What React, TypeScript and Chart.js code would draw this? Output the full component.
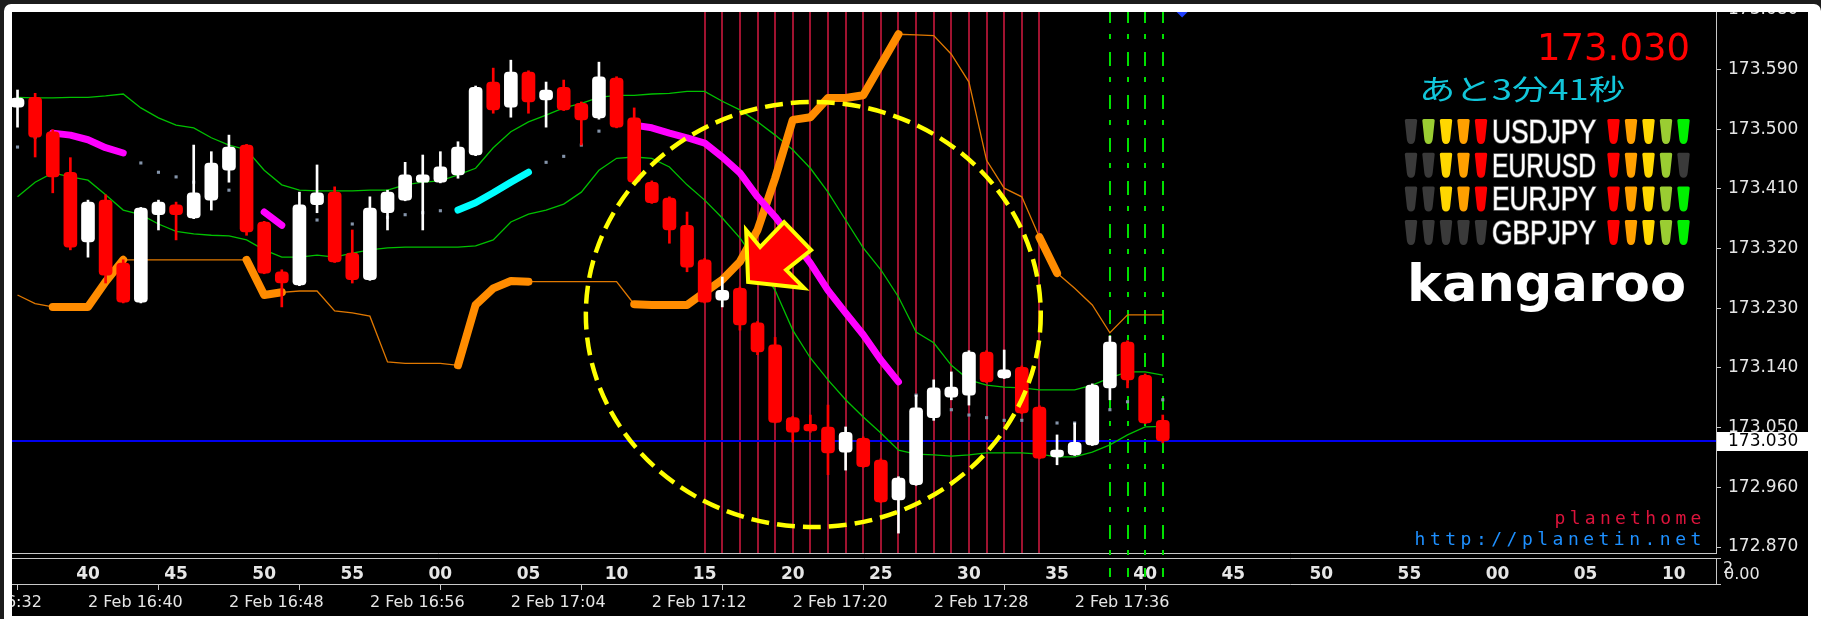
import React, { useEffect, useRef } from "react";
import { Chart, registerables } from "chart.js";

Chart.register(...registerables);

// ---------- data ----------
const TIMES = [
  "16:36","16:37","16:38","16:39","16:40","16:41","16:42","16:43","16:44","16:45",
  "16:46","16:47","16:48","16:49","16:50","16:51","16:52","16:53","16:54","16:55",
  "16:56","16:57","16:58","16:59","17:00","17:01","17:02","17:03","17:04","17:05",
  "17:06","17:07","17:08","17:09","17:10","17:11","17:12","17:13","17:14","17:15",
  "17:16","17:17","17:18","17:19","17:20","17:21","17:22","17:23","17:24","17:25",
  "17:26","17:27","17:28","17:29","17:30","17:31","17:32","17:33","17:34","17:35",
  "17:36","17:37","17:38","17:39","17:40","17:41",
];

const OPEN = [
  173.533,173.548,173.496,173.435,173.330,173.393,173.298,173.239,173.371,173.386,
  173.366,173.393,173.438,173.476,173.360,173.285,173.265,173.386,173.405,173.313,
  173.273,173.374,173.393,173.420,173.420,173.431,173.461,173.571,173.533,173.586,
  173.544,173.563,173.539,173.517,173.577,173.517,173.420,173.396,173.355,173.303,
  173.242,173.260,173.208,173.175,173.065,173.055,173.051,173.013,173.034,173.001,
  172.941,172.964,173.065,173.096,173.099,173.164,173.125,173.141,173.081,173.006,
  173.009,173.024,173.110,173.179,173.129,173.061,
];
const HIGH = [
  173.559,173.554,173.499,173.457,173.393,173.401,173.303,173.382,173.393,173.390,
  173.476,173.466,173.491,173.477,173.361,173.288,173.405,173.446,173.413,173.348,
  173.398,173.408,173.450,173.461,173.466,173.481,173.565,173.592,173.604,173.588,
  173.571,173.574,173.541,173.601,173.579,173.532,173.422,173.398,173.375,173.305,
  173.277,173.262,173.210,173.186,173.067,173.069,173.084,173.051,173.036,173.003,
  172.976,173.099,173.122,173.134,173.166,173.166,173.167,173.143,173.083,173.039,
  173.057,173.116,173.188,173.181,173.131,173.069,
];
const LOW = [
  173.503,173.458,173.404,173.318,173.307,173.268,173.238,173.238,173.348,173.333,
  173.365,173.378,173.420,173.340,173.282,173.232,173.264,173.374,173.299,173.268,
  173.272,173.348,173.392,173.348,173.419,173.426,173.460,173.524,173.518,173.524,
  173.503,173.528,173.476,173.515,173.502,173.419,173.388,173.328,173.285,173.238,
  173.232,173.197,173.160,173.057,173.028,173.043,172.979,172.986,172.990,172.937,
  172.891,172.963,173.061,173.092,173.084,173.118,173.124,173.071,173.003,172.994,
  173.008,173.023,173.092,173.110,173.056,173.027,
];
const CLOSE = [
  173.547,173.488,173.428,173.322,173.390,173.280,173.239,173.381,173.390,173.371,
  173.404,173.449,173.473,173.345,173.283,173.268,173.386,173.404,173.300,173.273,
  173.381,173.405,173.431,173.431,173.443,173.473,173.563,173.529,173.586,173.541,
  173.559,173.529,173.514,173.579,173.503,173.420,173.389,173.348,173.292,173.239,
  173.257,173.205,173.164,173.058,173.043,173.045,173.012,173.043,172.991,172.938,
  172.974,173.080,173.110,173.111,173.164,173.119,173.137,173.072,173.004,173.016,
  173.028,173.114,173.179,173.122,173.057,173.030,
];

const BAND_UPPER = [
  173.548,173.547,173.547,173.548,173.548,173.550,173.553,173.532,173.517,173.506,
  173.502,173.487,173.476,173.469,173.438,173.416,173.408,173.407,173.407,173.407,
  173.408,173.408,173.416,173.420,173.422,173.431,173.441,173.472,173.496,173.511,
  173.521,173.532,173.539,173.548,173.551,173.551,173.553,173.554,173.557,173.557,
  173.542,173.529,173.511,173.491,173.469,173.441,173.405,173.363,173.321,173.288,
  173.247,173.194,173.178,173.144,173.122,173.114,173.111,173.110,173.107,173.107,
  173.107,173.114,173.125,173.134,173.134,173.129,
];
const BAND_LOWER = [
  173.398,173.420,173.434,173.428,173.423,173.401,173.378,173.371,173.357,173.346,
  173.342,173.340,173.339,173.333,173.318,173.307,173.307,173.310,173.307,173.313,
  173.318,173.321,173.322,173.322,173.322,173.322,173.324,173.333,173.360,173.372,
  173.378,173.387,173.405,173.438,173.456,173.458,173.456,173.443,173.416,173.393,
  173.366,173.336,173.298,173.257,173.197,173.155,173.122,173.092,173.066,173.042,
  173.016,173.010,173.009,173.007,173.009,173.012,173.012,173.012,173.010,173.006,
  173.006,173.013,173.024,173.039,173.051,173.052,
];
const MA_LINE = [
  173.473,173.488,173.494,173.491,173.484,173.472,173.464,173.449,173.435,173.428,
  173.420,173.414,173.408,173.389,173.375,173.355,173.360,173.363,173.360,173.357,
  173.364,173.367,173.371,173.374,173.377,173.378,173.389,173.404,173.420,173.435,
  173.450,173.459,173.476,173.497,173.509,173.506,173.502,173.494,173.487,173.479,
  173.458,173.434,173.398,173.368,173.333,173.298,173.257,173.223,173.190,173.152,
  173.119,173.099,173.087,173.077,173.069,173.065,173.061,173.061,173.060,173.057,
  173.057,173.065,173.077,173.089,173.092,173.092,
];
const TRAIL_LINE = [
  173.250,173.237,173.232,173.232,173.232,173.270,173.303,173.303,173.303,173.303,
  173.303,173.303,173.303,173.303,173.250,173.254,173.256,173.256,173.226,173.223,
  173.218,173.149,173.147,173.147,173.147,173.144,173.235,173.260,173.271,173.270,
  173.270,173.270,173.270,173.270,173.270,173.236,173.235,173.235,173.235,173.254,
  173.273,173.300,173.348,173.426,173.514,173.518,173.547,173.547,173.551,173.597,
  173.643,173.642,173.641,173.613,173.571,173.453,173.411,173.398,173.337,173.283,
  173.260,173.235,173.193,173.220,173.220,173.220,
];

const TRAIL_THICK_SEGMENTS = [["16:38","16:42"],["16:49","16:51"],["17:01","17:05"],["17:11","17:26"],["17:34","17:35"]];
const MA_DOWN_SEGMENTS = [["16:38","16:42"],["16:50","16:51"],["17:11","17:26"]];
const MA_UP_SEGMENTS = [["17:01","17:05"]];

const RED_VLINES = [
  "17:15","17:16","17:17","17:18","17:19","17:20","17:21","17:22","17:23","17:24",
  "17:25","17:26","17:27","17:28","17:29","17:30","17:31","17:32","17:33","17:34",
];
const GREEN_VLINES = ["17:38","17:39","17:40","17:41"];

const BID_PRICE = 173.030;
const CIRCLE_CENTER_TIME = "17:21:10";
const CIRCLE_CENTER_PRICE = 173.2205;
const CIRCLE_RADIUS_MIN = 12.91;
const CIRCLE_RADIUS_PRICE = 0.3204;
const ARROW_TIME = "17:17:28";
const ARROW_PRICE = 173.2695;

const PRICE_TICKS = [173.680,173.590,173.500,173.410,173.320,173.230,173.140,173.050,172.960,172.870];
const MINUTE_TICK_TIMES = ["16:40","16:45","16:50","16:55","17:00","17:05","17:10","17:15","17:20","17:25","17:30","17:35","17:40","17:45","17:50","17:55","18:00","18:05","18:10"];
const MINUTE_TICK_LABELS = ["40","45","50","55","00","05","10","15","20","25","30","35","40","45","50","55","00","05","10"];
const DATE_TICK_TIMES = ["16:32","16:40","16:48","16:56","17:04","17:12","17:20","17:28","17:36"];
const DATE_TICK_LABELS = ["2 Feb 16:32","2 Feb 16:40","2 Feb 16:48","2 Feb 16:56","2 Feb 17:04","2 Feb 17:12","2 Feb 17:20","2 Feb 17:28","2 Feb 17:36"];

const SIGNAL_PAIRS = ["USDJPY","EURUSD","EURJPY","GBPJPY"];
const SIGNAL_LEFT = [[0,1,1,1,1],[0,0,1,1,1],[0,0,1,1,1],[0,0,0,0,0]];
const SIGNAL_RIGHT = [[1,1,1,1,1],[1,1,1,1,0],[1,1,1,1,1],[1,1,1,1,1]];
const COUNTDOWN_TEXT = "あと3分41秒";
const BRAND_TEXT = "kangaroo";
const SITE_NAME = "planethome";
const SITE_URL = "http://planetin.net";

// view range
const X_MIN = 35.687;
const X_MAX = 132.40;
const Y_MIN = 172.861;
const Y_MAX = 173.6766;

// ---------- helpers ----------
const toMin = (t: string) => {
  const p = t.split(":").map(Number);
  return (p[0] - 16) * 60 + p[1] + (p[2] || 0) / 60;
};

function segmentData(values: number[], segs: string[][]) {
  return TIMES.map((t, i) => {
    const m = toMin(t);
    const inside = segs.some(([a, b]) => m >= toMin(a) - 1e-6 && m <= toMin(b) + 1e-6);
    return { x: m, y: inside ? values[i] : null };
  });
}
const series = (values: number[]) => TIMES.map((t, i) => ({ x: toMin(t), y: values[i] }));

const BULL = "#ffffff";
const BEAR = "#ff0000";
const LEFT_COLORS = ["#00f000", "#9acd32", "#ffd700", "#ffa000", "#ff0000"];
const RIGHT_COLORS = ["#ff0000", "#ffa000", "#ffd700", "#9acd32", "#00f000"];
const OFF_COLOR = "#3a3a3a";

function bullet(ctx: CanvasRenderingContext2D, cx: number, top: number, color: string) {
  const h = 25, wt = 6.2, wb = 4.2;
  ctx.beginPath();
  ctx.moveTo(cx - wt, top + 1.5);
  ctx.quadraticCurveTo(cx - wt, top, cx - wt + 1.5, top);
  ctx.lineTo(cx + wt - 1.5, top);
  ctx.quadraticCurveTo(cx + wt, top, cx + wt, top + 1.5);
  ctx.lineTo(cx + wb, top + h - 5);
  ctx.quadraticCurveTo(cx + wb - 0.5, top + h, cx, top + h);
  ctx.quadraticCurveTo(cx - wb + 0.5, top + h, cx - wb, top + h - 5);
  ctx.closePath();
  ctx.fillStyle = color;
  ctx.fill();
}

function fitText(ctx: CanvasRenderingContext2D, text: string, x: number, y: number, width: number, align: CanvasTextAlign) {
  const w = ctx.measureText(text).width;
  ctx.save();
  ctx.translate(x, y);
  ctx.scale(width / w, 1);
  ctx.textAlign = align;
  ctx.fillText(text, 0, 0);
  ctx.restore();
}

const mt4Plugin = {
  id: "mt4decor",
  beforeDraw(chart: any) {
    const { ctx, width, height } = chart;
    ctx.save();
    ctx.fillStyle = "#000";
    ctx.fillRect(0, 0, width, height);
    ctx.restore();
  },
  beforeDatasetsDraw(chart: any) {
    const { ctx, chartArea: a, scales } = chart;
    const xs = scales.x, ys = scales.y;
    ctx.save();
    // frame lines of the windows
    ctx.strokeStyle = "#c8c8c8";
    ctx.lineWidth = 1;
    ctx.beginPath();
    ctx.moveTo(a.left, a.bottom + 0.5); ctx.lineTo(a.right + 1, a.bottom + 0.5);
    ctx.moveTo(a.left, a.bottom + 5.5); ctx.lineTo(a.right + 0.5, a.bottom + 5.5);
    ctx.lineTo(a.right + 0.5, a.bottom + 31.5);
    ctx.lineTo(a.left, a.bottom + 31.5);
    ctx.moveTo(a.right, a.bottom + 5.5); ctx.lineTo(a.right + 5, a.bottom + 5.5);
    ctx.moveTo(a.right, a.bottom + 31.5); ctx.lineTo(a.right + 5, a.bottom + 31.5);
    ctx.stroke();

    // red vertical lines
    ctx.strokeStyle = "#c8183c";
    ctx.lineWidth = 1.6;
    ctx.beginPath();
    RED_VLINES.forEach((t) => {
      const px = Math.round(xs.getPixelForValue(toMin(t)));
      ctx.moveTo(px, a.top); ctx.lineTo(px, a.bottom);
    });
    ctx.stroke();

    // green dash-dot vertical lines
    ctx.strokeStyle = "#00e000";
    ctx.lineWidth = 2;
    ctx.setLineDash([14, 11, 5, 13]);
    ctx.lineDashOffset = 3;
    GREEN_VLINES.forEach((t) => {
      const px = Math.round(xs.getPixelForValue(toMin(t)));
      ctx.beginPath();
      ctx.moveTo(px, a.top); ctx.lineTo(px, a.bottom + 24);
      ctx.stroke();
    });
    ctx.setLineDash([]);

    // bid line
    const by = ys.getPixelForValue(BID_PRICE);
    ctx.fillStyle = "#0000f0";
    ctx.fillRect(a.left, Math.round(by) - 1, a.right - a.left, 2);

    // chart shift marker
    const sx = xs.getPixelForValue(toMin(TIMES[TIMES.length - 1]) + 1.1);
    ctx.fillStyle = "#2040ff";
    ctx.beginPath();
    ctx.moveTo(sx - 5.5, a.top); ctx.lineTo(sx + 5.5, a.top); ctx.lineTo(sx, a.top + 5.5);
    ctx.closePath(); ctx.fill();
    ctx.restore();
  },
  afterDatasetsDraw(chart: any) {
    const { ctx, chartArea: a, scales } = chart;
    const xs = scales.x, ys = scales.y;
    ctx.save();
    ctx.beginPath();
    ctx.rect(a.left, a.top, a.right - a.left, a.bottom - a.top);
    ctx.clip();
    // yellow dashed ellipse
    const cm = toMin(CIRCLE_CENTER_TIME);
    const cx = xs.getPixelForValue(cm);
    const cy = ys.getPixelForValue(CIRCLE_CENTER_PRICE);
    const rx = Math.abs(xs.getPixelForValue(cm + CIRCLE_RADIUS_MIN) - cx);
    const ry = Math.abs(ys.getPixelForValue(CIRCLE_CENTER_PRICE + CIRCLE_RADIUS_PRICE) - cy);
    ctx.strokeStyle = "#ffff00";
    ctx.lineWidth = 4.5;
    ctx.setLineDash([18, 8]);
    ctx.beginPath();
    ctx.ellipse(cx, cy, rx, ry, 0, 0, Math.PI * 2);
    ctx.stroke();
    ctx.setLineDash([]);

    // arrow
    const tx = xs.getPixelForValue(toMin(ARROW_TIME));
    const ty = ys.getPixelForValue(ARROW_PRICE);
    const shape = [[0, 0], [-2, -52], [12, -35], [36, -60], [63, -32], [38, -12], [56, 6]];
    ctx.beginPath();
    shape.forEach(([dx, dy], i) => (i ? ctx.lineTo(tx + dx, ty + dy) : ctx.moveTo(tx + dx, ty + dy)));
    ctx.closePath();
    ctx.fillStyle = "#ff0000";
    ctx.fill();
    ctx.strokeStyle = "#ffff00";
    ctx.lineWidth = 4;
    ctx.lineJoin = "miter";
    ctx.stroke();
    ctx.restore();
  },
  afterDraw(chart: any) {
    const { ctx, width: W, height: H, scales } = chart;
    const ys = scales.y;
    ctx.save();
    // current price
    ctx.font = '37px "DejaVu Sans"';
    ctx.fillStyle = "#ff0000";
    ctx.textAlign = "right";
    ctx.textBaseline = "alphabetic";
    ctx.fillText(CLOSE[CLOSE.length - 1].toFixed(3), 1690, 60);

    // countdown
    ctx.font = '28px "Noto Sans CJK JP"';
    ctx.fillStyle = "#12c6da";
    fitText(ctx, COUNTDOWN_TEXT, 1625, 100, 206, "right");

    // signal rows
    const leftCx = [1411, 1428.5, 1446, 1463.5, 1481];
    const rightCx = [1613.5, 1631, 1648.5, 1666, 1683.5];
    SIGNAL_PAIRS.forEach((pair, r) => {
      const top = 119 + r * 33.7;
      SIGNAL_LEFT[r].forEach((on, k) => bullet(ctx, leftCx[k], top, on ? LEFT_COLORS[k] : OFF_COLOR));
      SIGNAL_RIGHT[r].forEach((on, k) => bullet(ctx, rightCx[k], top, on ? RIGHT_COLORS[k] : OFF_COLOR));
      ctx.font = '33px "Liberation Sans"';
      const w = ctx.measureText(pair).width;
      ctx.save();
      ctx.translate(1492, top + 24);
      ctx.scale(104 / w, 1);
      ctx.textAlign = "left";
      ctx.lineWidth = 1.6;
      ctx.strokeStyle = "#707070";
      ctx.strokeText(pair, 0, 0);
      ctx.fillStyle = "#ffffff";
      ctx.fillText(pair, 0, 0);
      ctx.restore();
    });

    // brand
    ctx.font = 'bold 52px "DejaVu Sans"';
    ctx.fillStyle = "#ffffff";
    fitText(ctx, BRAND_TEXT, 1686, 301, 279, "right");

    // site texts (monospace, fixed pitch)
    ctx.font = '18px "DejaVu Sans Mono"';
    ctx.textAlign = "center";
    ctx.fillStyle = "#dc143c";
    SITE_NAME.split("").forEach((ch, i) => ctx.fillText(ch, 1560 + i * 15.1, 524));
    ctx.fillStyle = "#1e90ff";
    SITE_URL.split("").forEach((ch, i) => ctx.fillText(ch, 1420 + i * 15.33, 545));

    // bid price box on the price axis
    const by = Math.round(ys.getPixelForValue(BID_PRICE));
    ctx.fillStyle = "#ffffff";
    ctx.fillRect(1717, by - 9, 91, 19);
    ctx.fillStyle = "#000000";
    ctx.font = '17px "DejaVu Sans"';
    ctx.textAlign = "left";
    ctx.textBaseline = "middle";
    ctx.fillText(BID_PRICE.toFixed(3), 1728, by + 1);

    // sub window scale label
    ctx.fillStyle = "#e6e6e6";
    ctx.font = '16px "DejaVu Sans"';
    ctx.fillText("0.00", 1724, 575);
    ctx.fillText("2", 1723, 569);

    // outer window frame
    ctx.beginPath();
    ctx.rect(0, 0, W, H);
    ctx.roundRect(4, 4, W - 4, H + 10, 7);
    ctx.fillStyle = "#1c1c1c";
    ctx.fill("evenodd");
    ctx.beginPath();
    ctx.roundRect(4, 4, W - 4, H + 10, 7);
    ctx.rect(12, 12, 1796, 604);
    ctx.fillStyle = "#ffffff";
    ctx.fill("evenodd");
    ctx.restore();
  },
};

const noHPad = (s: any) => {
  s.paddingLeft = 0;
  s.paddingRight = 0;
};

export default function App() {
  const ref = useRef<HTMLCanvasElement>(null);
  useEffect(() => {
    document.body.style.margin = "0";
    document.body.style.background = "#000";
    const canvas = ref.current!;
    const colors = TIMES.map((_, i) => (CLOSE[i] >= OPEN[i] ? BULL : BEAR));
    const chart = new Chart(canvas, {
      type: "bar",
      data: {
        datasets: [
          {
            type: "bar",
            label: "body",
            data: TIMES.map((t, i) => ({ x: toMin(t), y: [OPEN[i], CLOSE[i]] })) as any,
            backgroundColor: colors,
            borderWidth: 0,
            barThickness: 13,
            borderRadius: 4,
            borderSkipped: false,
            grouped: false,
            order: 0,
          } as any,
          {
            type: "bar",
            label: "wick",
            data: TIMES.map((t, i) => ({ x: toMin(t), y: [LOW[i], HIGH[i]] })) as any,
            backgroundColor: colors,
            borderWidth: 0,
            barThickness: 2,
            grouped: false,
            order: 1,
          } as any,
          {
            type: "line",
            label: "ma-down",
            data: segmentData(MA_LINE, MA_DOWN_SEGMENTS) as any,
            borderColor: "#ff00ff",
            borderWidth: 7,
            borderCapStyle: "round",
            borderJoinStyle: "round",
            pointRadius: 0,
            spanGaps: false,
            order: 2,
          },
          {
            type: "line",
            label: "ma-up",
            data: segmentData(MA_LINE, MA_UP_SEGMENTS) as any,
            borderColor: "#00ffff",
            borderWidth: 7,
            borderCapStyle: "round",
            borderJoinStyle: "round",
            pointRadius: 0,
            spanGaps: false,
            order: 2,
          },
          {
            type: "line",
            label: "ma",
            data: series(MA_LINE) as any,
            showLine: false,
            pointStyle: "rect",
            pointRadius: 2.2,
            pointBorderWidth: 0,
            pointBackgroundColor: "#8494aa",
            order: 3,
          },
          {
            type: "line",
            label: "trail-thick",
            data: segmentData(TRAIL_LINE, TRAIL_THICK_SEGMENTS) as any,
            borderColor: "#ff8c00",
            borderWidth: 8,
            borderCapStyle: "round",
            borderJoinStyle: "round",
            pointRadius: 0,
            spanGaps: false,
            order: 4,
          },
          {
            type: "line",
            label: "trail",
            data: series(TRAIL_LINE) as any,
            borderColor: "#e07800",
            borderWidth: 1.3,
            pointRadius: 0,
            order: 5,
          },
          {
            type: "line",
            label: "upper",
            data: series(BAND_UPPER) as any,
            borderColor: "#00c000",
            borderWidth: 1.3,
            pointRadius: 0,
            order: 6,
          },
          {
            type: "line",
            label: "lower",
            data: series(BAND_LOWER) as any,
            borderColor: "#00c000",
            borderWidth: 1.3,
            pointRadius: 0,
            order: 6,
          },
        ],
      },
      options: {
        responsive: false,
        animation: false,
        events: [],
        layout: { padding: { left: 12, top: 12, right: 13, bottom: 3 } },
        plugins: { legend: { display: false }, tooltip: { enabled: false } },
        elements: { line: { tension: 0 } },
        scales: {
          x: {
            type: "linear",
            position: "bottom",
            min: X_MIN,
            max: X_MAX,
            offset: false,
            weight: 0,
            grid: { display: false, offset: false },
            border: { display: false },
            ticks: {
              autoSkip: false,
              maxRotation: 0,
              minRotation: 0,
              padding: 3,
              color: "#e6e6e6",
              font: { family: "DejaVu Sans", size: 17, weight: "bold" },
              callback: (_v: any, i: number) => MINUTE_TICK_LABELS[i],
            },
            afterBuildTicks: (s: any) => {
              s.ticks = MINUTE_TICK_TIMES.map((t) => ({ value: toMin(t) }));
            },
            afterFit: (s: any) => {
              s.height = 31;
              noHPad(s);
            },
          },
          x2: {
            type: "linear",
            position: "bottom",
            min: X_MIN,
            max: X_MAX,
            offset: false,
            weight: 1,
            grid: { display: true, drawOnChartArea: false, drawTicks: true, tickLength: 6, color: "#c8c8c8" },
            border: { display: false },
            ticks: {
              autoSkip: false,
              maxRotation: 0,
              minRotation: 0,
              align: "start",
              padding: 3,
              color: "#e6e6e6",
              font: { family: "DejaVu Sans", size: 16 },
              callback: (_v: any, i: number) => DATE_TICK_LABELS[i],
            },
            afterBuildTicks: (s: any) => {
              s.ticks = DATE_TICK_TIMES.map((t) => ({ value: toMin(t) }));
            },
            afterFit: (s: any) => {
              s.height = 32;
              noHPad(s);
            },
          },
          y: {
            type: "linear",
            position: "right",
            min: Y_MIN,
            max: Y_MAX,
            beginAtZero: false,
            grid: { display: true, drawOnChartArea: false, drawTicks: true, tickLength: 5, color: "#c8c8c8" },
            border: { display: true, color: "#c8c8c8", width: 1 },
            ticks: {
              autoSkip: false,
              padding: 7,
              color: "#e6e6e6",
              font: { family: "DejaVu Sans", size: 17 },
              callback: (v: any) => Number(v).toFixed(3),
            },
            afterBuildTicks: (s: any) => {
              s.ticks = PRICE_TICKS.map((v) => ({ value: v }));
            },
            afterFit: (s: any) => {
              s.width = 92;
              s.paddingTop = 0;
              s.paddingBottom = 0;
            },
          },
        },
      } as any,
      plugins: [mt4Plugin],
    });
    return () => chart.destroy();
  }, []);
  return (
    <div style={{ width: 1821, height: 619 }}>
      <canvas ref={ref} width={1821} height={619} style={{ display: "block" }} />
    </div>
  );
}
